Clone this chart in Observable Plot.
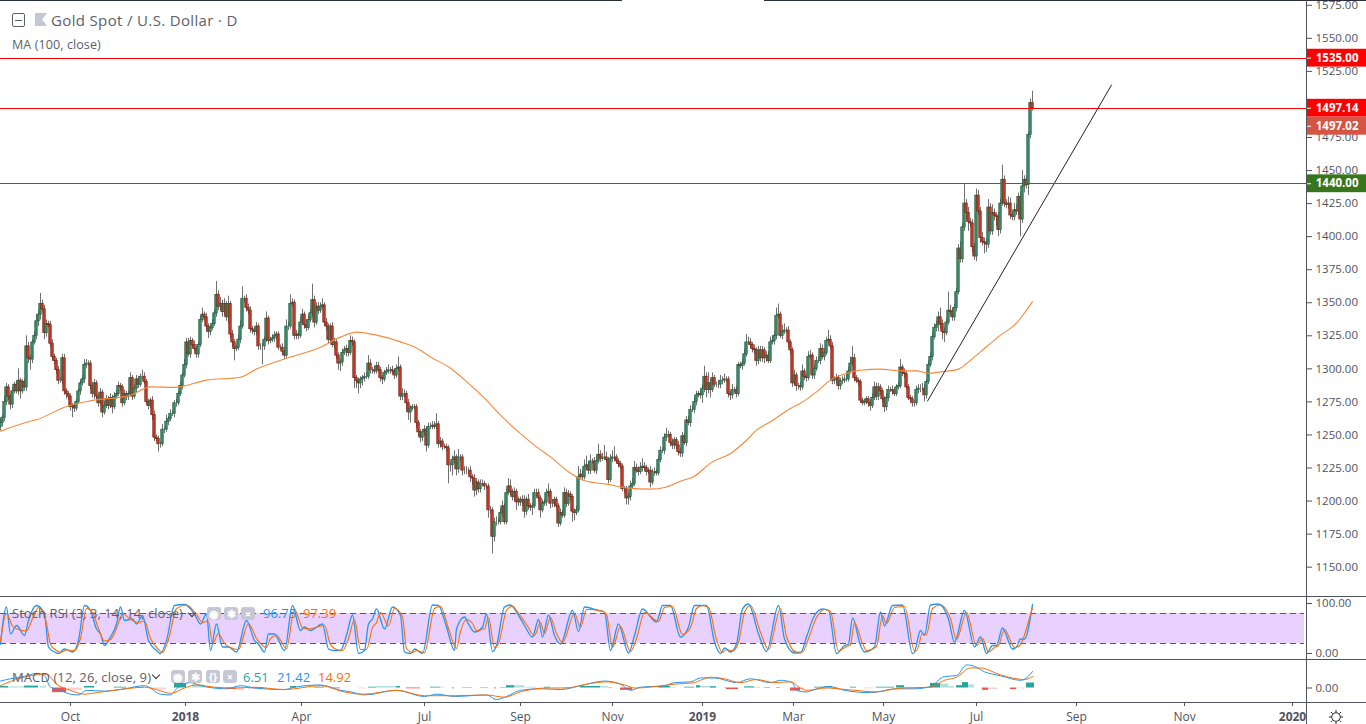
<!DOCTYPE html>
<html><head><meta charset="utf-8">
<script src="https://cdn.jsdelivr.net/npm/d3@7"></script>
<script src="https://cdn.jsdelivr.net/npm/@observablehq/plot@0.6"></script>
<style>
html,body{margin:0;padding:0;background:#fff;overflow:hidden}
#root{position:relative;width:1366px;height:724px;font-family:"Open Sans",sans-serif;overflow:hidden}
#root > svg{position:absolute;left:0}
.t{position:absolute;white-space:nowrap;line-height:1;color:#5d606b}
.line{position:absolute;background:#50535e}
.btn{position:absolute;width:14px;height:13.5px;border-radius:3px;background:#c5c7d2}
</style></head><body><div id="root"></div>
<script>
const closes=[
1259,1263,1275,1286,1279,1273,1283,1288,1283,1291,
1283,1290,1286,1317,1308,1307,1320,1325,1336,1341,
1349,1345,1327,1334,1333,1319,1309,1306,1299,1291,
1291,1308,1283,1281,1279,1271,1272,1270,1275,1283,
1289,1292,1303,1304,1304,1287,1281,1289,1279,1274,
1282,1267,1272,1277,1272,1278,1271,1279,1281,1287,
1286,1274,1281,1279,1281,1293,1279,1285,1292,1288,
1294,1294,1290,1275,1272,1276,1265,1248,1247,1243,
1243,1254,1254,1260,1262,1266,1266,1274,1274,1281,
1287,1295,1303,1320,1311,1321,1318,1315,1311,1318,
1337,1341,1339,1332,1328,1331,1334,1342,1356,1347,
1349,1343,1349,1339,1349,1326,1320,1315,1316,1322,
1332,1353,1353,1346,1344,1330,1329,1328,1332,1317,
1317,1317,1322,1338,1321,1322,1323,1325,1326,1316,
1316,1313,1310,1332,1332,1349,1350,1325,1326,1325,
1335,1341,1333,1331,1337,1342,1352,1335,1347,1344,
1347,1348,1335,1332,1322,1332,1318,1320,1310,1304,
1305,1312,1314,1315,1312,1321,1320,1293,1291,1289,
1292,1293,1294,1294,1304,1299,1299,1298,1302,1299,
1293,1292,1297,1298,1299,1299,1298,1295,1300,1301,
1279,1281,1281,1274,1267,1270,1271,1271,1259,1252,
1248,1252,1254,1242,1256,1256,1257,1256,1258,1243,
1245,1241,1241,1240,1227,1227,1231,1233,1224,1233,
1233,1223,1223,1223,1223,1218,1217,1208,1214,1209,
1213,1213,1211,1211,1193,1193,1173,1184,1184,1184,
1191,1196,1184,1206,1211,1207,1203,1207,1199,1201,
1199,1201,1192,1201,1196,1195,1196,1206,1206,1202,
1193,1198,1199,1206,1207,1198,1198,1201,1196,1183,
1191,1189,1206,1198,1205,1203,1192,1191,1193,1218,
1220,1218,1226,1227,1223,1230,1230,1223,1230,1235,
1232,1233,1233,1231,1216,1232,1233,1233,1230,1228,
1226,1209,1209,1202,1203,1211,1213,1225,1223,1222,
1225,1226,1225,1222,1223,1214,1222,1222,1221,1231,
1238,1238,1248,1250,1250,1244,1242,1246,1242,1237,
1236,1249,1244,1261,1259,1269,1269,1275,1280,1281,
1280,1285,1294,1284,1289,1284,1293,1288,1288,1288,
1291,1291,1292,1292,1281,1280,1284,1284,1281,1303,
1302,1304,1311,1320,1320,1318,1315,1314,1306,1314,
1308,1314,1308,1310,1306,1320,1321,1325,1340,1341,
1325,1328,1329,1329,1320,1314,1289,1295,1287,1287,
1286,1298,1294,1293,1309,1310,1295,1300,1306,1306,
1315,1309,1312,1321,1322,1317,1291,1292,1293,1287,
1291,1291,1292,1292,1298,1304,1308,1293,1291,1290,
1276,1274,1275,1277,1274,1272,1278,1286,1279,1286,
1283,1277,1271,1278,1284,1284,1283,1281,1286,1287,
1301,1297,1296,1286,1278,1277,1274,1274,1284,1285,
1285,1285,1280,1290,1303,1309,1324,1331,1333,1339,
1334,1328,1327,1335,1344,1343,1339,1346,1358,1391,
1383,1407,1425,1418,1411,1410,1392,1385,1431,1419,
1399,1396,1395,1394,1422,1404,1418,1416,1415,1405,
1425,1443,1425,1424,1425,1416,1415,1420,1419,1430,
1413,1438,1443,1439,1477,1501,1497.02];
const wickUp=[
3,2,4,3,2,2,3,2,3,9, 2,2,2,8,3,2,2,3,5,3, 8,3,3,3,2,3,3,2,2,3, 2,3,3,2,2,2,2,2,2,2,
2,3,4,3,2,2,3,3,2,2, 3,2,3,3,2,3,2,3,3,3, 2,2,3,2,2,4,2,3,3,2, 2,5,3,2,2,2,3,3,2,2,
2,4,2,5,2,3,2,2,3,2, 3,2,4,3,3,3,2,3,2,2, 3,5,2,3,2,2,3,3,10,3, 5,3,4,2,6,2,3,2,2,3,
4,9,2,3,3,3,2,2,3,2, 2,2,2,5,2,2,3,3,2,2, 2,3,3,5,3,7,3,2,3,2, 4,4,2,4,3,3,12,3,3,3,
3,5,2,3,2,2,3,3,2,2, 2,3,3,3,2,4,3,2,2,2, 2,2,3,3,6,3,2,3,3,3, 2,2,2,3,4,2,3,2,3,8,
2,4,3,2,3,2,2,2,2,2, 2,2,3,2,3,3,3,3,8,2, 3,2,2,2,2,2,3,5,2,6, 2,2,3,3,2,3,2,3,3,2,
3,3,2,2,2,3,2,3,4,3, 3,4,2,3,6,5,2,3,2,2, 2,3,3,2,4,2,2,3,3,3, 2,3,2,3,6,2,3,2,2,2,
3,2,4,3,3,2,2,2,3,8, 4,3,5,7,3,5,2,3,4,8, 3,3,9,4,2,3,5,8,2,2, 2,2,2,2,3,4,4,5,3,3,
4,6,3,2,2,3,2,3,2,3, 3,2,3,5,3,2,3,2,2,3, 3,3,2,3,3,3,3,4,3,2, 3,3,8,3,8,3,4,2,2,3,
4,3,4,2,2,2,4,2,3,2, 2,3,4,6,4,3,2,3,2,3, 3,3,2,3,3,4,4,3,6,8, 2,5,5,2,3,2,2,4,2,2,
3,5,2,2,4,4,2,3,3,3, 4,3,3,3,7,3,3,2,3,2, 2,3,3,4,3,5,9,3,2,2, 2,2,2,2,2,2,3,4,3,3,
2,2,2,3,3,2,3,2,2,3, 6,2,3,2,2,2,2,2,3,3, 3,4,3,2,3,3,3,3,3,4, 7,3,3,3,14,4,3,3,3,3,
5,3,15,3,4,3,3,3,5,4, 3,4,3,3,6,3,6,3,2,3, 3,11,3,3,5,4,3,5,4,3, 4,12,3,3,2,3,9];
const wickDn=[
3,3,3,3,3,4,3,2,2,3, 6,2,3,3,4,8,3,2,3,4, 4,2,5,3,2,3,3,3,3,3, 2,3,3,4,3,3,8,3,2,2,
3,2,3,3,2,3,3,4,3,3, 2,4,2,2,3,2,5,2,2,2, 3,3,2,3,3,2,3,2,3,3, 2,2,2,2,3,2,4,3,2,6,
3,2,3,2,3,2,2,3,3,2, 2,3,2,3,2,3,3,2,3,3, 2,2,3,4,5,3,2,2,3,3, 3,4,3,3,5,3,4,9,2,2,
3,2,3,3,3,3,3,3,3,3, 3,14,3,2,3,2,2,3,3,2, 2,3,3,2,3,2,2,3,3,3, 2,2,3,3,2,2,3,4,2,3,
2,2,3,3,3,2,2,3,3,5, 6,3,2,5,3,2,3,8,6,8, 4,5,3,2,2,3,3,2,2,2, 3,4,2,2,2,3,2,3,2,2,
3,3,3,6,6,8,2,2,4,3, 4,3,3,5,2,2,2,2,2,3, 3,3,2,3,14,5,8,3,5,3, 3,4,3,3,3,4,5,5,4,3,
3,2,3,2,6,3,13,4,3,2, 2,3,2,2,2,3,3,3,6,3, 3,3,5,3,3,3,6,2,3,3, 6,2,2,3,3,4,3,3,2,3,
2,2,2,3,2,3,8,6,2,2, 2,3,2,3,3,3,2,2,3,2, 3,2,2,2,3,2,3,3,2,3, 2,2,3,5,5,3,2,2,2,3,
2,3,2,3,2,4,2,3,2,2, 2,2,3,3,2,3,3,3,3,3, 3,3,2,3,2,3,2,3,3,2, 3,6,3,6,3,6,2,2,2,3,
3,3,2,2,3,4,3,2,3,2, 2,3,2,2,2,3,3,3,4,3, 3,3,4,3,2,2,2,3,3,2, 2,3,2,2,4,3,3,2,4,3,
3,2,3,3,2,2,3,3,2,2, 3,2,3,2,2,2,3,3,3,3, 3,3,2,2,2,2,2,3,2,3, 2,2,2,2,3,4,2,2,3,3,
3,3,4,3,3,2,3,2,2,2, 2,3,3,2,2,2,3,3,2,3, 3,2,5,3,2,2,3,2,3,5, 4,6,7,2,2,3,3,3,3,2,
3,3,3,6,7,3,4,3,4,3, 4,3,8,6,3,3,3,4,7,5, 3,2,3,3,3,3,3,3,3,3, 13,3,5,3,8,3,2];

const maBars=[0,15,18,32,45,65,75,87,103,120,128,145,160,170,178,188,200,208,215,225,235,242,250,258,268,275,285,293,303,313,325,333,340,347,355,365,373,378,385,395,400,408,415,423,430,440,450,458,464,470,479,483,490,500,508,513,516];
const maVals=[1252.9,1260.4,1261.5,1271,1275.8,1280,1286.4,1286,1291.5,1293.7,1299.8,1308.9,1316.4,1324,1327.8,1325.5,1320.4,1315.7,1309,1300.5,1287.7,1277.8,1265,1253.6,1241,1233.4,1221,1215,1212.8,1210,1209,1210.7,1215,1218.8,1228.7,1236,1246,1253.6,1260,1270,1274,1282.6,1291.5,1296.7,1299,1299.8,1298.5,1298.5,1296.7,1297.7,1299.8,1304,1312.9,1325.5,1334.6,1344.4,1350.7];

const trendBars=[463.5,555.5];
const trendVals=[1275.6,1514.7];
const priceTicks=[1150,1175,1200,1225,1250,1275,1300,1325,1350,1375,1400,1425,1450,1475,1525,1550,1575];
const levelVals=[1535,1497.14,1440];
const levelColors=["#ff0000","#ff0000","#38761d"];
const tagCenters=[1535,1497.14,1483.5,1440];
const tagLabels=["1535.00","1497.14","1497.02","1440.00"];
const tagColors=["#ff0000","#ff0000","#d55545","#38761d"];

const kBars=[0,3,5,8,12,14,18,22,24,27,29,32,36,39,42,45,48,50,52,55,58,60,62,66,68,71,74,78,80,83,87,92,97,100,103,105,108,111,114,118,123,127,129,132,134,137,142,146,150,152,155,161,164,167,
170,173,176,179,182,184,186,188,192,196,200,202,205,207,211,216,219,223,227,228,232,234,237,241,243,246,248,252,255,257,262,266,269,271,274,277,280,286,289,292,299,302,305,309,314,317,321,328,331,335,340,344,347,
350,353,357,360,362,365,368,371,374,379,383,389,392,397,400,403,407,411,414,418,422,424,426,430,432,437,440,442,446,451,456,457,460,462,465,469,474,477,482,487,490,493,496,498,501,506,508,510,512,516];
const kVals=[19,93,39,56,36,66,96,79,13,3,0,9,3,26,96,86,49,39,16,33,59,93,66,69,59,76,26,6,0,26,96,98,79,59,79,6,59,13,13,3,66,26,19,3,39,39,6,96,46,53,46,59,9,6,
6,36,77,0,6,59,69,89,49,93,76,3,0,9,0,97,96,53,6,49,73,59,43,53,79,4,16,93,97,89,56,33,68,33,77,36,19,86,44,93,86,83,6,59,1,36,89,63,96,96,33,53,96,
96,96,23,0,11,3,19,89,99,39,4,96,29,1,1,33,76,89,86,0,16,19,71,16,3,13,83,55,96,97,0,3,46,36,97,99,69,23,86,13,33,0,16,16,51,9,13,29,29,98];
const dBars=[0,3,6,9,13,16,19,23,25,28,30,33,37,40,43,46,49,52,55,58,61,64,67,69,72,75,79,81,84,88,93,98,101,104,106,109,112,115,119,124,128,130,133,135,138,143,147,151,154,162,165,168,
171,174,177,180,183,186,188,190,194,197,201,203,206,208,212,217,220,224,228,230,233,236,238,242,244,247,249,253,256,258,263,267,270,272,275,278,281,287,290,293,300,303,306,310,315,318,322,329,332,336,341,345,348,
351,354,358,361,363,366,369,372,375,380,384,390,393,398,401,404,408,412,415,419,423,425,427,431,433,438,441,443,447,452,457,458,461,463,466,470,475,478,483,488,491,494,497,499,502,507,509,511,513,516];
const dVals=[25,80,55,48,45,70,92,60,18,6,2,7,6,30,90,82,50,25,28,50,80,72,64,62,65,30,8,2,28,90,97,78,62,65,20,40,20,12,8,60,30,20,12,30,36,10,88,52,49,56,18,8,
6,30,68,8,8,52,62,82,55,90,74,10,2,6,2,90,94,50,10,44,68,60,46,50,72,12,20,86,95,86,58,36,62,40,72,40,22,80,52,88,86,78,12,54,4,30,82,64,92,94,38,52,90,
96,92,28,2,8,5,22,82,96,42,8,90,34,3,3,30,72,88,84,5,14,18,62,20,6,14,76,60,92,94,5,5,40,38,90,97,70,28,82,16,30,3,12,16,48,12,14,26,50,92];
const stochBands=[20,80];
const stochTicks=[0,100];

const macdBars=[0,5,12,18,22,25,30,35,39,43,52,62,72,80,85,88,95,100,113,120,127,142,147,160,170,175,182,198,212,218,227,243,248,253,260,270,280,290,302,310,315,320,332,337,345,350,357,368,375,385,390,396,398,403,407,414,422,435,448,457,465,472,478,483,487,492,500,510,513,516];
const macdVals=[9,12,15,19,16,1,-3,-8,-9,-3,-4,-1,3,-8,-9,-1,7,3,-1,3,0,-2,1,4,-3,-5,-9,-3,-11,-8,-11,-9,-15,-11,-3,-1,-2,3,9,5,-3,1,3,7,8,13,13,7,12,7,10,7,-3,-5,-2,2,-3,-6,-1,-1,2,15,16,30,28,21,16,10,13,21.42];
const signalBars=[0,10,23,28,35,42,48,57,72,78,85,92,98,107,117,127,142,160,167,170,182,198,212,227,243,252,260,273,283,293,303,312,317,328,337,347,350,355,362,370,378,387,395,400,403,413,423,438,450,465,472,478,485,490,500,512,516];
const signalVals=[3,13,18,5,-3,-8,-6,-3,1,-2,-7,0,4,1,0,1,-2,3,-1,-4,-8,-3,-10,-10,-9,-12,-5,0,0,5,8,4,0,2,5,7,10,14,12,7,11,7,8,0,-3,0,-2,-5,0,1,10,14,26,26,17,11,14.92];
const histStart=[0,4,12,20,26,34,42,57,65,75,87,96,103,113,118,124,145,157,165,179,184,188,198,203,215,220,226,231,240,247,250,253,257,262,272,277,282,290,295,300,304,310,329,335,342,348,350,355,362,363,372,377,382,388,395,400,407,413,416,425,432,438,448,452,458,465,470,474,478,481,484,491,494,505,508,513];
const histEnd=[4,12,19,23,33,41,47,63,72,83,93,102,110,118,122,132,148,162,170,183,188,198,200,210,220,222,227,236,244,248,253,257,262,268,275,278,287,295,300,304,306,316,335,338,347,350,358,358,363,369,377,380,385,390,400,402,413,416,419,428,437,447,452,455,463,470,474,477,481,484,487,494,499,508,512,517];
const histVals=[2,1.5,2.5,2,-6,-3,2,1,1,-2,6,4,1,-2,-3,-1,2,1,-1,-1,1,2,2,-1,1,1,-1,0.5,0.5,-1,0.5,3,3,1,1,0.5,0.5,2,2,2,-0.5,-3,2,1,1,3,2,1.5,-0.5,-2,1.5,1,-0.7,0.7,-4,-2,1,2,1,1,-1,1,3,1,0.5,6,5,2,3,7,4,-3,-2,-2,-1,6.51];
const histTones=["T","P","T","P","R","K","T","T","P","K","T","P","P","R","K","R","T","T","R","K","T","P","T","R","T","P","R","T","T","R","T","T","P","P","T","P","T","T","T","P","R","R","T","P","T","T","P","T","R","R","T","P","R","T","R","K","T","T","P","T","K","T","T","P","P","T","P","P","T","T","P","R","K","R","K","T"];
const toneColors={T:"#26a69a",P:"#b2dfdb",R:"#ef5350",K:"#ffcdd2"};

const monthBars=[35,150.5,212,260,306,396.5,441.5,488,538,592];
const monthLabels=["Oct","Apr","Jul","Sep","Nov","Mar","May","Jul","Sep","Nov"];
const yearBars=[92.5,351,646];
const yearLabels=["2018","2019","2020"];

const table=(o)=>{const k=Object.keys(o);return o[k[0]].map((_,i)=>Object.fromEntries(k.map(n=>[n,o[n][i]])));};
const candles=closes.map((c,i)=>{const o=i?closes[i-1]:c-3;return{i,o,c,h:Math.max(o,c)+wickUp[i],l:Math.min(o,c)-wickDn[i]};});
const tone=d=>d.c>=d.o;
const axisColor="#50535e", font="'Open Sans',sans-serif";
const common={width:1366,marginLeft:0,marginRight:60,marginTop:0,x:{domain:[0,653],range:[0,1306],axis:null},style:{background:"transparent",fontFamily:font,color:"#5d606b",overflow:"visible"}};
const lin=(xs,ys,stroke,w,extra={})=>Plot.line(table({x:xs,y:ys}),{x:"x",y:"y",stroke,strokeWidth:w,curve:"monotone-x",...extra});

const main=Plot.plot({...common,height:596,marginBottom:0,
 y:{domain:[1127.8,1578.63],range:[596,0],axis:null},
 marks:[
  Plot.axisY({anchor:"right",ticks:priceTicks,tickFormat:d=>d.toFixed(2),tickSize:5,tickPadding:4,label:null,fontSize:11.5,color:axisColor}),
  Plot.ruleX(candles,{x:"i",y1:"l",y2:"h",stroke:"#707070",strokeWidth:1}),
  Plot.rect(candles,{x1:d=>d.i-0.6,x2:d=>d.i+0.6,y1:"o",y2:"c",fill:d=>tone(d)?"#3f8f6a":"#cf3c2a",stroke:d=>tone(d)?"#27634a":"#7f2618",strokeWidth:0.8}),
  lin(maBars,maVals,"#f7883a",1.1),
  Plot.line(table({x:trendBars,y:trendVals}),{x:"x",y:"y",stroke:"#1e222d",strokeWidth:1}),
  Plot.ruleY(table({y:levelVals,c:levelColors}),{y:"y",x1:0,x2:653,stroke:"c",strokeWidth:1,shapeRendering:"crispEdges"}),
  Plot.rect(table({y:tagCenters,c:tagColors}),{x1:653,x2:683,y1:d=>d.y-6.75,y2:d=>d.y+6.75,fill:"c"}),
  Plot.ruleY(tagCenters,{x1:653,x2:655.5,stroke:"#fff",strokeWidth:1}),
  Plot.text(table({y:tagCenters,t:tagLabels}),{x:668.3,y:"y",text:"t",fill:"#fff",fontWeight:"bold",fontSize:11.5})
 ]});

const stoch=Plot.plot({...common,height:62,marginBottom:0,
 y:{domain:[-12,112],range:[62,0],axis:null},
 marks:[
  Plot.axisY({anchor:"right",ticks:stochTicks,tickFormat:d=>d.toFixed(2),tickSize:5,tickPadding:4,label:null,fontSize:11.5,color:axisColor}),
  Plot.rect([stochBands],{x1:0,x2:652,y1:d=>d[0],y2:d=>d[1],fill:"#e9d1ff"}),
  Plot.ruleY(stochBands,{x1:0,x2:652,stroke:"#5f5370",strokeWidth:1,strokeDasharray:"6 4"}),
  lin(kBars,kVals,"#2196f3",1.3),
  lin(dBars,dVals,"#ff6d00",1.1)
 ]});

const macd=Plot.plot({...common,height:64,marginBottom:22,
 y:{domain:[-18.8,35.7],range:[42,0],axis:null},
 marks:[
  Plot.axisY({anchor:"right",ticks:[0],tickFormat:d=>d.toFixed(2),tickSize:5,tickPadding:4,label:null,fontSize:11.5,color:axisColor}),
  Plot.rect(table({a:histStart,b:histEnd,v:histVals,t:histTones}),{x1:"a",x2:"b",y1:0,y2:"v",fill:d=>toneColors[d.t]}),
  lin(macdBars,macdVals,"#2196f3",1),
  lin(signalBars,signalVals,"#ff6d00",1),
  Plot.axisX({anchor:"bottom",ticks:monthBars,tickFormat:(d)=>monthLabels[monthBars.indexOf(d)],tickSize:4,tickPadding:6,fontSize:12,label:null,color:axisColor}),
  Plot.axisX({anchor:"bottom",ticks:yearBars,tickFormat:(d)=>yearLabels[yearBars.indexOf(d)],tickSize:4,tickPadding:6,fontSize:12,label:null,color:axisColor,fontWeight:"bold"})
 ]});

const root=document.getElementById("root");
[[main,0],[stoch,597],[macd,660]].forEach(([s,t])=>{s.style.top=t+"px";root.appendChild(s);});
const add=(cls,css,html="")=>{const e=document.createElement("div");e.className=cls;e.style.cssText=css;e.innerHTML=html;root.appendChild(e);return e;};
add("line","left:0;top:0;width:622px;height:1px;background:#2a2e39");
add("line","left:764px;top:0;width:602px;height:1px;background:#2a2e39");
add("line","left:0;top:596px;width:1366px;height:1px");
add("line","left:0;top:659px;width:1366px;height:1px");
add("line","left:0;top:702px;width:1366px;height:1px");
add("line","left:1306px;top:0;width:1px;height:724px");
add("","position:absolute;left:12px;top:13px;width:11px;height:12px;border:1px solid #5d606b;border-radius:2px",'<div style="position:absolute;left:2px;right:2px;top:5.5px;height:1px;background:#5d606b"></div>');
add("","position:absolute;left:35px;top:13px;width:12px;height:13px;background:#c5c7d2;clip-path:polygon(0 0,100% 0,60% 50%,100% 100%,0 100%)");
add("t","left:51px;top:13px;font-size:15px;letter-spacing:.35px","Gold Spot / U.S. Dollar · D");
add("t","left:12px;top:38.5px;font-size:12.5px;letter-spacing:.1px","MA (100, close)");
add("t","left:12px;top:607px;font-size:13px;letter-spacing:.05px","Stoch RSI (3, 3, 14, 14, close)");
add("t","left:12px;top:670.5px;font-size:13px;letter-spacing:.1px","MACD (12, 26, close, 9)");
const chev=(x,y)=>add("","position:absolute;left:"+x+"px;top:"+y+"px;width:5px;height:5px;border-right:1.2px solid #333;border-bottom:1.2px solid #333;transform:rotate(45deg)");
chev(189,610);chev(153,672);
const glyphs=["◉","✱","×","{}"];
const btn=(x,y,g)=>add("btn","left:"+x+"px;top:"+y+"px;color:#fff;font-size:11px;line-height:14px;text-align:center;font-weight:bold",g);
[207,224,241].forEach((x,i)=>btn(x,606.5,glyphs[i]));
[171,188,206,223].forEach((x,i)=>btn(x,669.5,glyphs[[0,1,3,2][i]]));
add("t","left:263px;top:607px;font-size:13px;color:#2196f3","96.75");
add("t","left:303px;top:607px;font-size:13px;color:#ff6d00","97.39");
add("t","left:243px;top:670.5px;font-size:13px;color:#26a69a","6.51");
add("t","left:277px;top:670.5px;font-size:13px;color:#2196f3","21.42");
add("t","left:318px;top:670.5px;font-size:13px;color:#ff6d00","14.92");
add("","position:absolute;left:1328.5px;top:709.5px;width:14px;height:14px",'<svg width="14" height="14" viewBox="0 0 14 14" style="display:block"><circle cx="7" cy="7" r="4.3" fill="none" stroke="#222" stroke-width="1"/><path d="M7 0v2M7 12v2M0 7h2M12 7h2M2 2l1.5 1.5M12 2l-1.5 1.5M2 12l1.5-1.5M12 12l-1.5-1.5" stroke="#222" stroke-width="1"/></svg>');
</script></body></html>
